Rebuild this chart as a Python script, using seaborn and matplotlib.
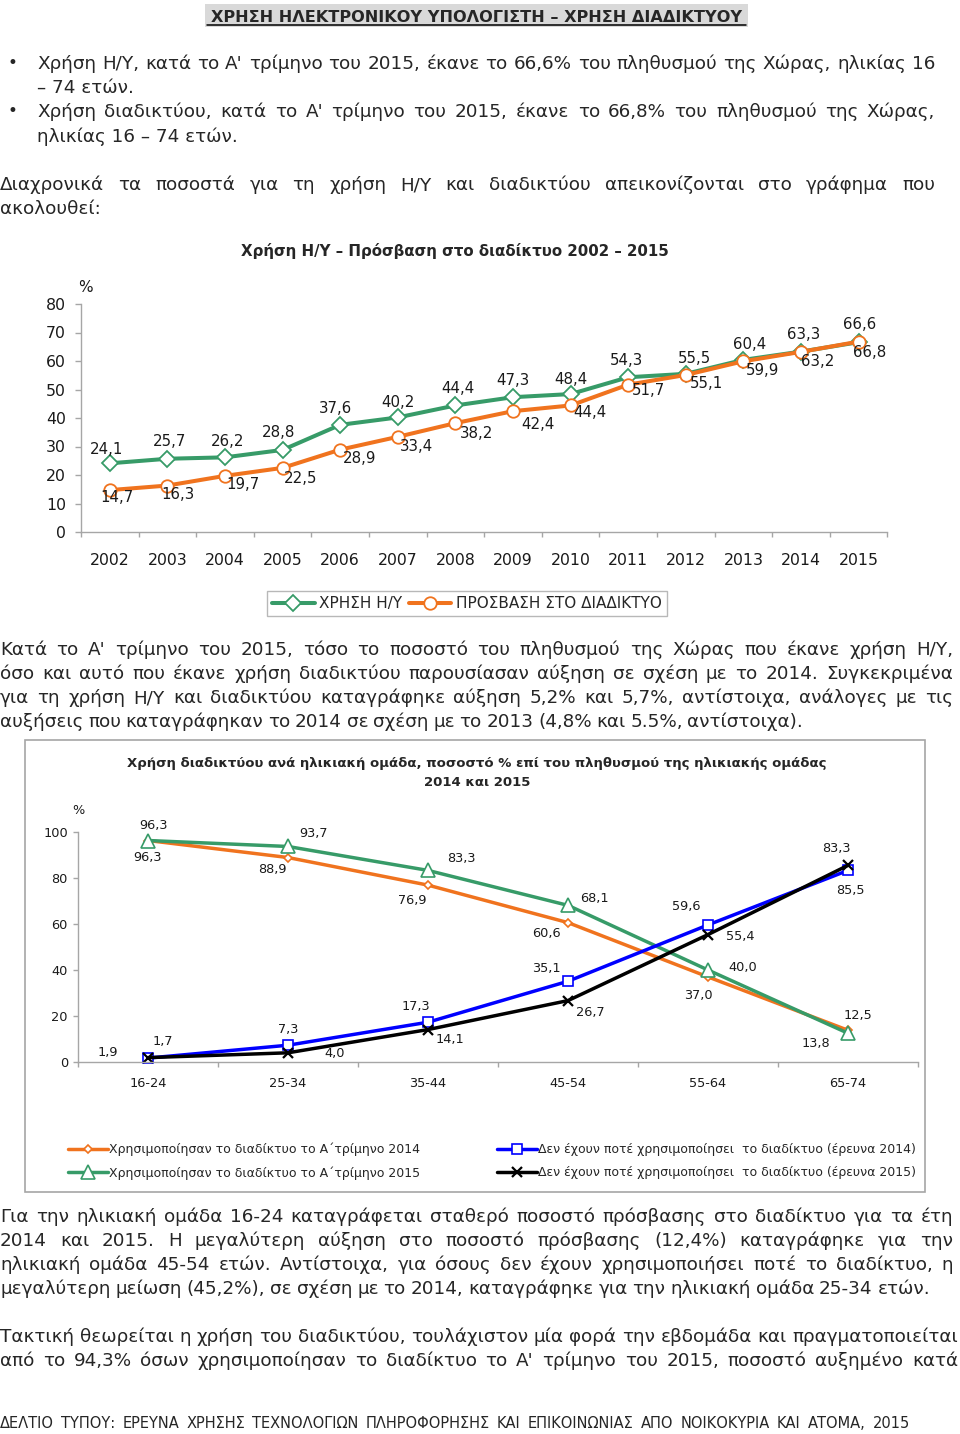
import numpy as np
import pandas as pd
import matplotlib
matplotlib.use("Agg")
import matplotlib.pyplot as plt
import seaborn as sns
from matplotlib.font_manager import FontProperties, fontManager
from matplotlib.patches import Rectangle
from matplotlib.lines import Line2D

# ---------------- data ----------------
years = ["2002", "2003", "2004", "2005", "2006", "2007", "2008",
         "2009", "2010", "2011", "2012", "2013", "2014", "2015"]
pc_use = [24.1, 25.7, 26.2, 28.8, 37.6, 40.2, 44.4, 47.3, 48.4, 54.3, 55.5, 60.4, 63.3, 66.6]
internet_access = [14.7, 16.3, 19.7, 22.5, 28.9, 33.4, 38.2, 42.4, 44.4, 51.7, 55.1, 59.9, 63.2, 66.8]
chart1_series = ["ΧΡΗΣΗ Η/Υ", "ΠΡΟΣΒΑΣΗ ΣΤΟ ΔΙΑΔΙΚΤΥΟ"]

age_groups = ["16-24", "25-34", "35-44", "45-54", "55-64", "65-74"]
used_2014 = [96.3, 88.9, 76.9, 60.6, 37.0, 13.8]
used_2015 = [96.3, 93.7, 83.3, 68.1, 40.0, 12.5]
never_2014 = [1.7, 7.3, 17.3, 35.1, 59.6, 83.3]
never_2015 = [1.9, 4.0, 14.1, 26.7, 55.4, 85.5]
chart2_series = ["Χρησιμοποίησαν το διαδίκτυο το Α΄τρίμηνο 2014",
                 "Χρησιμοποίησαν το διαδίκτυο το Α΄τρίμηνο 2015",
                 "Δεν έχουν ποτέ χρησιμοποίησει  το διαδίκτυο (έρευνα 2014)",
                 "Δεν έχουν ποτέ χρησιμοποίησει  το διαδίκτυο (έρευνα 2015)"]

# label offsets (pixels) – styling only
off_pc = [(-3, 14), (2, 17), (3, 16), (-4, 17), (-5, 16), (0, 15), (3, 17),
          (0, 17), (0, 15), (-2, 17), (9, 15), (6, 15), (3, 17), (1, 18)]
off_net = [(7, -7), (11, -9), (18, -9), (18, -11), (19, -9), (19, -10), (21, -10),
           (25, -13), (19, -7), (20, -6), (21, -9), (19, -9), (17, -10), (11, -11)]
off_u14 = [(0, -17), (-16, -12), (-16, -15), (-22, -11), (-10, -19), (-32, -13)]
off_u15 = [(5, 15), (26, 13), (33, 12), (26, 7), (35, 2), (10, 18)]
off_n14 = [(15, 17), (0, 16), (-12, 16), (-22, 13), (-22, 18), (-12, 22)]
off_n15 = [(-40, 5), (47, -1), (22, -10), (22, -12), (32, -2), (2, -25)]

# ---------------- style ----------------
sns.set_theme(style="white")
plt.rcParams["font.family"] = ["DejaVu Sans"]
installed = {f.name for f in fontManager.ttflist}
NARROW = "Liberation Sans Narrow" if "Liberation Sans Narrow" in installed else "DejaVu Sans"
BODY = "DejaVu Sans"

GREEN = "#379B68"
ORANGE = "#F0731E"
BLUE = "#0000FF"
BLACK = "#000000"
GRID = "#A6A6A6"

W, H = 960, 1434
fig = plt.figure(figsize=(W / 100, H / 100), dpi=100)
renderer = fig.canvas.get_renderer()


def fx(px):
    return px / W


def fy(py):
    return 1 - py / H


def text_w(s, fp):
    return renderer.get_text_width_height_descent(s, fp, ismath=False)[0]


def fit_size(s, family, weight, target):
    fp = FontProperties(family=family, weight=weight, size=10)
    return 10 * target / text_w(s, fp)


def draw_line(s, x0, x1, yc, size=12.5, family=BODY, weight="normal"):
    words = s.split()
    fp = FontProperties(family=family, size=size, weight=weight)
    if x1 is None or len(words) == 1:
        fig.text(fx(x0), fy(yc + size * 0.48), s, fontproperties=fp, va="baseline", ha="left")
        return
    while True:
        fp = FontProperties(family=family, size=size, weight=weight)
        ws = [text_w(w, fp) for w in words]
        sp = text_w("a a", fp) - text_w("aa", fp)
        gap = (x1 - x0 - sum(ws)) / (len(words) - 1)
        if gap >= 0.7 * sp or size < 6:
            break
        size -= 0.1
    x = x0
    for w, wd in zip(words, ws):
        fig.text(fx(x), fy(yc + size * 0.48), w, fontproperties=fp, va="baseline", ha="left")
        x += wd + gap


def fmt(v):
    return f"{v:.1f}".replace(".", ",")


# ---------------- page title ----------------
title = "ΧΡΗΣΗ ΗΛΕΚΤΡΟΝΙΚΟΥ ΥΠΟΛΟΓΙΣΤΗ – ΧΡΗΣΗ ΔΙΑΔΙΚΤΥΟΥ"
fig.add_artist(Rectangle((fx(205), fy(27)), (748 - 205) / W, 23 / H,
                         transform=fig.transFigure, facecolor="#D9D9D9",
                         edgecolor="none", zorder=0))
ts = fit_size(title, NARROW, "bold", 534)
fig.text(fx(476.5), fy(22), title, family=NARROW, weight="bold", fontsize=ts,
         ha="center", va="baseline")
fig.add_artist(Line2D([fx(207), fx(746)], [fy(25), fy(25)], color="black", lw=1.1,
                      transform=fig.transFigure))

# ---------------- body text ----------------
for yb in (63, 111):
    fig.text(fx(12), fy(yb), "•", fontsize=12, ha="center", va="center")

body_lines = [
    ("Χρήση Η/Υ,  κατά το Α' τρίμηνο του 2015, έκανε το 66,6% του πληθυσμού της Χώρας, ηλικίας 16", 37, 935, 63),
    ("– 74 ετών.", 37, None, 87),
    ("Χρήση διαδικτύου, κατά το Α' τρίμηνο του 2015, έκανε το 66,8% του πληθυσμού της Χώρας,", 37, 935, 111),
    ("ηλικίας 16 – 74 ετών.", 37, None, 136),
    ("Διαχρονικά τα ποσοστά για τη χρήση Η/Υ και διαδικτύου απεικονίζονται στο γράφημα που", 0, 935, 184),
    ("ακολουθεί:", 0, None, 208),
    ("Κατά το Α' τρίμηνο του 2015, τόσο το ποσοστό του πληθυσμού της Χώρας που έκανε χρήση Η/Υ,", 0, 953, 649),
    ("όσο και αυτό που έκανε χρήση διαδικτύου παρουσίασαν αύξηση σε σχέση με το 2014. Συγκεκριμένα", 0, 953, 673),
    ("για τη χρήση Η/Υ και διαδικτύου καταγράφηκε αύξηση 5,2% και 5,7%, αντίστοιχα, ανάλογες με τις", 0, 953, 697),
    ("αυξήσεις που καταγράφηκαν το 2014 σε σχέση με το 2013 (4,8% και 5.5%, αντίστοιχα).", 0, 803, 721),
    ("Για την ηλικιακή ομάδα 16-24 καταγράφεται σταθερό ποσοστό πρόσβασης στο διαδίκτυο για τα έτη", 0, 953, 1216),
    ("2014 και 2015. Η μεγαλύτερη αύξηση στο ποσοστό πρόσβασης (12,4%) καταγράφηκε για την", 0, 953, 1240),
    ("ηλικιακή ομάδα 45-54 ετών. Αντίστοιχα, για όσους δεν έχουν χρησιμοποιήσει ποτέ το διαδίκτυο, η", 0, 953, 1264),
    ("μεγαλύτερη μείωση (45,2%), σε σχέση με το 2014, καταγράφηκε για την ηλικιακή ομάδα  25-34 ετών.", 0, 930, 1288),
    ("Τακτική θεωρείται η χρήση του διαδικτύου, τουλάχιστον μία φορά την εβδομάδα και πραγματοποιείται", 0, 958, 1336),
    ("από το 94,3% όσων χρησιμοποίησαν το διαδίκτυο το Α' τρίμηνο του 2015, ποσοστό αυξημένο κατά", 0, 958, 1360),
]
for s, x0, x1, yc in body_lines:
    draw_line(s, x0, x1, yc, size=13.2)

draw_line("ΔΕΛΤΙΟ ΤΥΠΟΥ:  ΕΡΕΥΝΑ ΧΡΗΣΗΣ ΤΕΧΝΟΛΟΓΙΩΝ ΠΛΗΡΟΦΟΡΗΣΗΣ ΚΑΙ ΕΠΙΚΟΙΝΩΝΙΑΣ ΑΠΟ ΝΟΙΚΟΚΥΡΙΑ ΚΑΙ ΑΤΟΜΑ, 2015",
          0, 910, 1423, size=10.5)

# ---------------- chart 1 ----------------
c1_title = "Χρήση Η/Υ – Πρόσβαση στο διαδίκτυο 2002 – 2015"
fig.text(fx(455), fy(251), c1_title, family=NARROW, weight="bold",
         fontsize=fit_size(c1_title, NARROW, "bold", 430), ha="center", va="center")

n1 = len(years)
ax1 = fig.add_axes([fx(81), fy(532), (57.6 * n1) / W, (532 - 304) / H])
pos1 = np.arange(n1)
df1 = pd.DataFrame({"pos": np.concatenate([pos1, pos1]),
                    "value": pc_use + internet_access,
                    "series": [chart1_series[0]] * n1 + [chart1_series[1]] * n1})

specs1 = [(chart1_series[0], GREEN, "D", 8.5), (chart1_series[1], ORANGE, "o", 9)]
for name, color, mk, ms in specs1:
    sub = df1[df1["series"] == name]
    sns.lineplot(data=sub, x="pos", y="value", ax=ax1, color=color, lw=2.9,
                 marker=mk, markersize=ms, markerfacecolor="white",
                 markeredgecolor=color, markeredgewidth=1.3, label=name,
                 clip_on=False, sort=False)

for i, (v, (dx, dy)) in enumerate(zip(pc_use, off_pc)):
    ax1.annotate(fmt(v), (i, v), xytext=(dx, dy), textcoords="offset pixels",
                 ha="center", va="center", fontsize=10.8, color="#1a1a1a")
for i, (v, (dx, dy)) in enumerate(zip(internet_access, off_net)):
    ax1.annotate(fmt(v), (i, v), xytext=(dx, dy), textcoords="offset pixels",
                 ha="center", va="center", fontsize=10.8, color="#1a1a1a")

ax1.set_xlim(-0.5, n1 - 0.5)
ax1.set_ylim(0, 80)
ax1.set_yticks(np.arange(0, 81, 10))
ax1.set_xticks(pos1)
ax1.set_xticklabels(years)
ax1.set_xticks(np.arange(-0.5, n1, 1), minor=True)
ax1.set_xlabel("")
ax1.set_ylabel("")
sns.despine(ax=ax1)
for sp in ("left", "bottom"):
    ax1.spines[sp].set_color(GRID)
    ax1.spines[sp].set_linewidth(1)
ax1.tick_params(axis="y", which="major", length=4.3, width=1, color=GRID, pad=6.5,
                labelsize=11.3, labelcolor="#1a1a1a", direction="out", left=True)
ax1.tick_params(axis="x", which="major", length=0, pad=15, labelsize=11.3, labelcolor="#1a1a1a")
ax1.tick_params(axis="x", which="minor", length=3.6, width=1, color=GRID, direction="out", bottom=True)
ax1.set_facecolor("none")
ax1.grid(False)
fig.text(fx(85), fy(287), "%", fontsize=11, ha="center", va="center", color="#1a1a1a")

h1, l1 = ax1.get_legend_handles_labels()
if ax1.get_legend() is not None:
    ax1.get_legend().remove()
leg1 = fig.legend(h1, l1, ncol=2, loc="center", bbox_to_anchor=(fx(467), fy(603.5)),
                  frameon=True, fancybox=False, edgecolor=GRID, fontsize=11,
                  handlelength=2.8, handletextpad=0.3, columnspacing=0.4,
                  borderpad=0.35, numpoints=1)
leg1.get_frame().set_linewidth(1)

# ---------------- chart 2 ----------------
fig.add_artist(Rectangle((fx(25), fy(1192)), 900 / W, (1192 - 740) / H,
                         transform=fig.transFigure, facecolor="none",
                         edgecolor=GRID, lw=1.2))
c2_t1 = "Χρήση διαδικτύου ανά ηλικιακή ομάδα, ποσοστό % επί του πληθυσμού της ηλικιακής ομάδας"
c2_size = fit_size(c2_t1, NARROW, "bold", 696)
fig.text(fx(477), fy(763), c2_t1, family=NARROW, weight="bold", fontsize=c2_size,
         ha="center", va="center")
fig.text(fx(477), fy(783), "2014 και 2015", family=NARROW, weight="bold", fontsize=c2_size,
         ha="center", va="center")

n2 = len(age_groups)
ax2 = fig.add_axes([fx(78), fy(1062), 140 * n2 / W, (1062 - 832) / H])
pos2 = np.arange(n2)
series2_vals = [used_2014, used_2015, never_2014, never_2015]
df2 = pd.DataFrame({"pos": np.tile(pos2, 4),
                    "value": np.concatenate(series2_vals),
                    "series": np.repeat(chart2_series, n2)})

specs2 = [(chart2_series[0], ORANGE, "D", 4.5, 1.2),
          (chart2_series[1], GREEN, "^", 9.5, 1.2),
          (chart2_series[2], BLUE, "s", 7, 1.2),
          (chart2_series[3], BLACK, "x", 7, 1.6)]
for name, color, mk, ms, mew in specs2:
    sub = df2[df2["series"] == name]
    sns.lineplot(data=sub, x="pos", y="value", ax=ax2, color=color, lw=2.5,
                 marker=mk, markersize=ms, markerfacecolor="white",
                 markeredgecolor=color, markeredgewidth=mew, label=name,
                 clip_on=False, sort=False)

for vals, offs in zip(series2_vals, [off_u14, off_u15, off_n14, off_n15]):
    for i, (v, (dx, dy)) in enumerate(zip(vals, offs)):
        ax2.annotate(fmt(v), (i, v), xytext=(dx, dy), textcoords="offset pixels",
                     ha="center", va="center", fontsize=9.3, color="#1a1a1a")

ax2.set_xlim(-0.5, n2 - 0.5)
ax2.set_ylim(0, 100)
ax2.set_yticks(np.arange(0, 101, 20))
ax2.set_xticks(pos2)
ax2.set_xticklabels(age_groups)
ax2.set_xticks(np.arange(-0.5, n2, 1), minor=True)
ax2.set_xlabel("")
ax2.set_ylabel("")
sns.despine(ax=ax2)
for sp in ("left", "bottom"):
    ax2.spines[sp].set_color(GRID)
    ax2.spines[sp].set_linewidth(1)
ax2.tick_params(axis="y", which="major", length=3.6, width=1, color=GRID, pad=3.6,
                labelsize=9.3, labelcolor="#1a1a1a", direction="out", left=True)
ax2.tick_params(axis="x", which="major", length=0, pad=11, labelsize=9.3, labelcolor="#1a1a1a")
ax2.tick_params(axis="x", which="minor", length=3.6, width=1, color=GRID, direction="out", bottom=True)
ax2.set_facecolor("none")
ax2.grid(False)
fig.text(fx(78), fy(810), "%", fontsize=9.3, ha="center", va="center", color="#1a1a1a")

h2, l2 = ax2.get_legend_handles_labels()
if ax2.get_legend() is not None:
    ax2.get_legend().remove()
common = dict(loc="center left", frameon=False, fontsize=9, handlelength=3.2,
              handletextpad=0.1, labelspacing=0.8, borderpad=0, borderaxespad=0,
              numpoints=1)
fig.legend(h2[:2], l2[:2], bbox_to_anchor=(fx(68), fy(1161)), **common)
fig.legend(h2[2:], l2[2:], bbox_to_anchor=(fx(497), fy(1161)), **common)

fig.savefig("out.png", dpi=100)
